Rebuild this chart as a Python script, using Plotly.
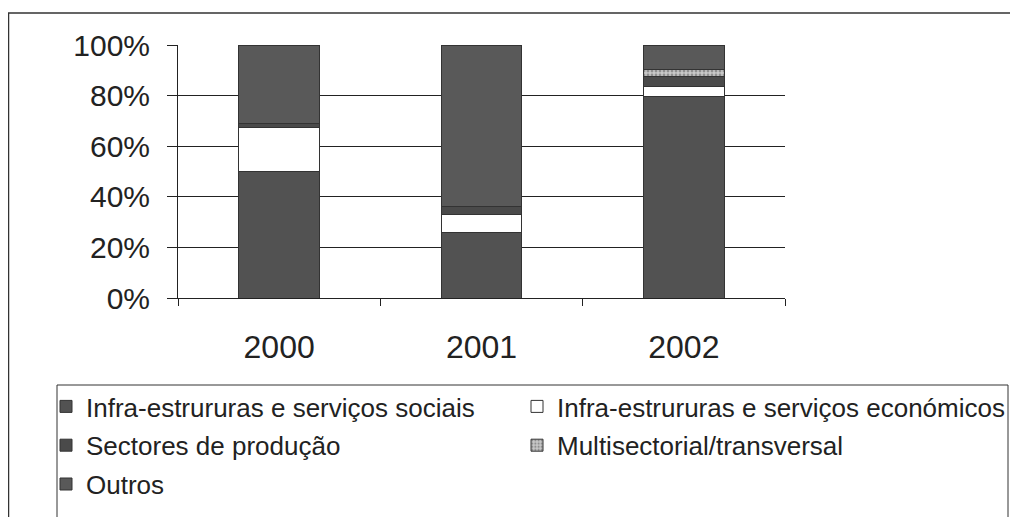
import plotly.graph_objects as go

years = ["2000", "2001", "2002"]
sociais = [50, 26, 79.5]
economicos = [17.5, 7, 4]
sectores = [1.5, 3, 4]
multisectorial = [0, 0, 3]
outros = [31, 64, 9.5]
y_ticks = [0, 20, 40, 60, 80, 100]
y_tick_labels = ["0%", "20%", "40%", "60%", "80%", "100%"]

names = [
    "Infra-estrururas e serviços sociais",
    "Infra-estrururas e serviços económicos",
    "Sectores de produção",
    "Multisectorial/transversal",
    "Outros",
]

FONT = "Liberation Sans, Arial, sans-serif"
TXT = "#222222"

# page offset of the figure inside the browser page (default body margin)
OFF = 8
W, H = 1018 - OFF, 517 - OFF
# plot area in page pixels
L, R, T, B = 178 - OFF, 785 - OFF, 45 - OFF, 298 - OFF
pw, ph = R - L, B - T


def px_x(p):
    return (p - OFF - L) / pw


def px_y(p):
    return (B - (p - OFF)) / ph


def cx(p):
    return (p - OFF) / W


def cy(p):
    return 1 - (p - OFF) / H


fig = go.Figure()
line = dict(color="#333333", width=1)
fig.add_bar(x=years, y=sociais, name=names[0], marker=dict(color="#525252", line=line),
            legend="legend", legendgroup="g1")
fig.add_bar(x=years, y=economicos, name=names[1], marker=dict(color="#ffffff", line=line),
            legend="legend2", legendgroup="g2")
fig.add_bar(x=years, y=sectores, name=names[2], marker=dict(color="#4a4a4a", line=line),
            legend="legend", legendgroup="g3")
fig.add_bar(x=years, y=multisectorial, name=names[3],
            marker=dict(color="#c8c8c8", line=line,
                        pattern=dict(shape=".", fgcolor="#555555", bgcolor="#c8c8c8", size=4, solidity=0.4)),
            legend="legend2", legendgroup="g4")
fig.add_bar(x=years, y=outros, name=names[4], marker=dict(color="#595959", line=line),
            legend="legend", legendgroup="g5")

leg_common = dict(orientation="v", font=dict(family=FONT, size=26, color=TXT),
                  bgcolor="rgba(0,0,0,0)", borderwidth=0, traceorder="grouped",
                  tracegroupgap=2, xref="container", yref="container",
                  xanchor="left", yanchor="top")

fig.update_layout(
    width=W, height=H,
    margin=dict(l=L, r=W - R, t=T, b=H - B, autoexpand=False),
    barmode="stack", bargap=0.6,
    plot_bgcolor="white", paper_bgcolor="white",
    font=dict(family=FONT, color=TXT),
    legend=dict(x=cx(46), y=cy(383), **leg_common),
    legend2=dict(x=cx(517), y=cy(383), **leg_common),
    xaxis=dict(showline=True, linecolor="#222", linewidth=1, ticks="outside", tickson="boundaries",
               ticklen=7, tickcolor="#222", tickfont=dict(size=32, color=TXT, family=FONT),
               ticklabelstandoff=21, showgrid=False, automargin=False),
    yaxis=dict(range=[0, 100], tickvals=y_ticks, ticktext=y_tick_labels, showline=True,
               linecolor="#222", linewidth=1, ticks="outside", ticklen=10, tickcolor="#222",
               tickfont=dict(size=30, color=TXT, family=FONT), ticklabelstandoff=11,
               showgrid=True, gridcolor="#222", gridwidth=1, zeroline=False, automargin=False),
    shapes=[
        dict(type="rect", xref="paper", yref="paper", x0=px_x(8.5), x1=px_x(1012), y0=px_y(540), y1=px_y(13),
             line=dict(color="#333", width=1.5), fillcolor="rgba(0,0,0,0)", layer="below"),
        dict(type="rect", xref="paper", yref="paper", x0=px_x(57), x1=px_x(1008), y0=px_y(540), y1=px_y(385),
             line=dict(color="#333", width=1), fillcolor="rgba(0,0,0,0)", layer="below"),
    ],
)

fig.write_html("out.html")
